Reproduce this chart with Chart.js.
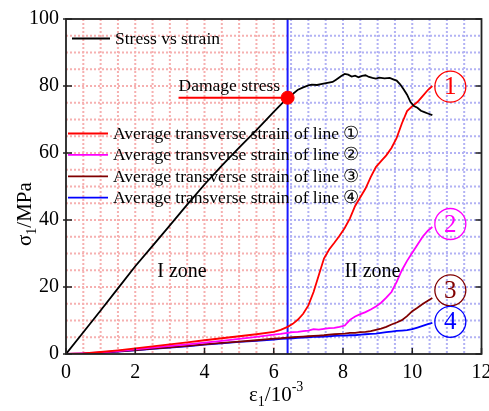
<!DOCTYPE html>
<html>
<head>
<meta charset="utf-8">
<script src="https://cdn.jsdelivr.net/npm/chart.js@4.4.1/dist/chart.umd.min.js"></script>
<style>
  html, body { margin: 0; padding: 0; background: #fff; }
</style>
</head>
<body>
<canvas id="chart" width="489" height="411"></canvas>
<script>
// Courbe contrainte-déformation (noir)
const stressStrain = [0, 0.5, 1, 1.5, 2, 2.5, 3, 3.5, 4, 4.5, 5, 5.5, 6, 6.4,
  6.55, 6.7, 6.85, 7.0, 7.1, 7.25, 7.4, 7.55, 7.7, 7.8, 7.95, 8.05, 8.15, 8.25, 8.35, 8.45,
  8.55, 8.65, 8.75, 8.85, 8.95, 9.05, 9.2, 9.35, 9.45, 9.55, 9.65, 9.75, 9.85, 9.95,
  10.05, 10.15, 10.25, 10.35, 10.45, 10.58];
const stress = [0, 6.5, 13, 19.6, 26.2, 32.3, 38.4, 44.6, 50.6, 56.2, 61.6, 66.8, 72.3, 76.5,
  77.6, 78.9, 79.6, 80.2, 80.4, 80.3, 80.6, 80.9, 81.2, 81.9, 83.0, 83.6, 83.4, 82.8, 83.1, 82.6,
  83.0, 83.2, 82.7, 82.4, 82.2, 82.5, 82.3, 82.4, 82.0, 81.6, 80.5, 79.0, 77.4, 75.2,
  74.0, 73.5, 72.6, 72.2, 71.8, 71.3];

// Déformations transversales moyennes des lignes 1 à 4 (même axe des x)
const lineStrain = [0, 0.5, 1, 1.5, 2, 2.5, 3, 3.5, 4, 4.5, 5, 5.5, 6, 6.2, 6.4, 6.55, 6.7, 6.85,
  7.0, 7.15, 7.3, 7.45, 7.6, 7.75, 7.9, 8.05, 8.2, 8.35, 8.5, 8.65, 8.8, 8.95, 9.1, 9.25,
  9.4, 9.55, 9.7, 9.85, 10.0, 10.15, 10.3, 10.45, 10.58];
const line1 = [0, 0.2, 0.6, 1.1, 1.7, 2.3, 2.9, 3.5, 4.1, 4.7, 5.3, 5.9, 6.6, 7.2, 8.1, 9.0, 10.3, 12.0,
  14.5, 18.5, 23.5, 28.5, 31.2, 33.2, 35.3, 37.6, 40.5, 44.2, 46.8, 49.4, 52.8, 55.8, 57.6, 59.3,
  61.5, 64.5, 68.8, 72.5, 74.0, 75.2, 77.0, 78.8, 80.0];
const line2 = [0, 0.2, 0.5, 0.9, 1.4, 1.9, 2.4, 2.9, 3.4, 3.9, 4.5, 5.1, 5.8, 6.0, 6.3, 6.5, 6.6, 6.8,
  7.0, 7.4, 7.3, 7.5, 7.7, 7.8, 8.1, 8.5, 10.2, 11.2, 11.9, 12.5, 13.3, 14.2, 15.3, 16.8,
  18.5, 21.5, 25.0, 27.8, 30.2, 32.6, 35.0, 36.8, 37.9];
const line3 = [0, 0.1, 0.4, 0.8, 1.2, 1.6, 2.0, 2.4, 2.9, 3.3, 3.7, 4.1, 4.6, 4.7, 4.9, 5.0, 5.1, 5.2,
  5.3, 5.4, 5.5, 5.6, 5.8, 5.9, 6.0, 6.1, 6.3, 6.3, 6.5, 6.6, 6.8, 7.2, 7.6, 8.1,
  8.8, 9.4, 10.1, 11.3, 12.8, 13.8, 14.9, 15.9, 16.7];
const line4 = [0, 0.1, 0.3, 0.7, 1.1, 1.5, 1.9, 2.3, 2.8, 3.2, 3.6, 3.9, 4.3, 4.5, 4.6, 4.7, 4.8, 4.9,
  5.0, 5.1, 5.1, 5.2, 5.3, 5.4, 5.5, 5.5, 5.6, 5.6, 5.8, 5.9, 6.0, 6.1, 6.3, 6.5,
  6.7, 6.9, 7.0, 7.1, 7.4, 7.9, 8.4, 8.9, 9.3];

// Point de contrainte d'endommagement
const damageStrain = 6.4;
const damageStress = 76.5;
const damageLineStart = 3.25;

// Ticks des axes
const xTicks = [0, 2, 4, 6, 8, 10, 12];
const yTicks = [0, 20, 40, 60, 80, 100];

// Légende et étiquettes
const stressLabel = 'Stress vs strain';
const lineLabels = ['Average transverse strain of line \u2460', 'Average transverse strain of line \u2461',
  'Average transverse strain of line \u2462', 'Average transverse strain of line \u2463'];
const lineColors = ['#ff0000', '#ff00ff', '#800000', '#0000ff'];
const circleDigits = ['1', '2', '3', '4'];
const circleX = 11.1;
const circleY = [79.8, 38.8, 19.0, 9.6];
const zoneLabels = [{ text: 'I zone', x: 3.35, y: 25 }, { text: 'II zone', x: 8.85, y: 25 }];

const SERIF = '"Liberation Serif", "Times New Roman", serif';

function toPoints(xs, ys) {
  return xs.map((x, i) => ({ x: x, y: ys[i] }));
}

// Fond quadrillé en pointillés : rose à gauche (zone I), bleu à droite (zone II)
const backgroundGrid = {
  id: 'backgroundGrid',
  beforeDatasetsDraw(chart) {
    const { ctx, chartArea: a, scales: { x, y } } = chart;
    const split = x.getPixelForValue(damageStrain);
    ctx.save();
    ctx.lineWidth = 2;
    ctx.setLineDash([2, 2]);
    const zones = [[a.left, split, '#f6b0b0'], [split, a.right, '#b2b2f4']];
    zones.forEach(([l, r, color]) => {
      ctx.save();
      ctx.beginPath();
      ctx.rect(l, a.top, r - l, a.bottom - a.top);
      ctx.clip();
      ctx.strokeStyle = color;
      for (let v = 0.5; v < 12; v += 0.5) {
        const px = x.getPixelForValue(v);
        ctx.beginPath();
        ctx.moveTo(px, a.top);
        ctx.lineTo(px, a.bottom);
        ctx.stroke();
      }
      for (let v = 5; v < 100; v += 5) {
        const py = y.getPixelForValue(v);
        ctx.beginPath();
        ctx.moveTo(a.left, py);
        ctx.lineTo(a.right, py);
        ctx.stroke();
      }
      ctx.restore();
    });
    ctx.restore();
  }
};

// Cadre, ticks, titres d'axes, légende et annotations
const overlay = {
  id: 'overlay',
  afterDraw(chart) {
    const { ctx, chartArea: a, scales: { x, y } } = chart;
    ctx.save();

    // Cadre
    ctx.strokeStyle = '#222';
    ctx.lineWidth = 1.8;
    ctx.strokeRect(a.left, a.top, a.right - a.left, a.bottom - a.top);

    // Ticks vers l'intérieur
    ctx.lineWidth = 1.5;
    ctx.beginPath();
    xTicks.forEach(v => {
      const px = x.getPixelForValue(v);
      ctx.moveTo(px, a.bottom);
      ctx.lineTo(px, a.bottom - 6);
    });
    yTicks.forEach(v => {
      const py = y.getPixelForValue(v);
      ctx.moveTo(a.left - 3, py);
      ctx.lineTo(a.left + 6, py);
      ctx.moveTo(a.right, py);
      ctx.lineTo(a.right - 6, py);
    });
    ctx.stroke();

    ctx.fillStyle = '#000';
    ctx.textBaseline = 'alphabetic';

    // Titre de l'axe x : ε1/10-3
    ctx.textAlign = 'left';
    let tx = 249, ty = 401;
    ctx.font = '21px ' + SERIF;
    ctx.fillText('\u03b5', tx, ty); tx += ctx.measureText('\u03b5').width;
    ctx.font = '14px ' + SERIF;
    ctx.fillText('1', tx, ty + 5); tx += ctx.measureText('1').width;
    ctx.font = '21px ' + SERIF;
    ctx.fillText('/10', tx, ty); tx += ctx.measureText('/10').width;
    ctx.font = '14px ' + SERIF;
    ctx.fillText('-3', tx, ty - 10);

    // Titre de l'axe y : σ1/MPa
    ctx.save();
    ctx.translate(31, 246);
    ctx.rotate(-Math.PI / 2);
    let sx = 0;
    ctx.font = '21px ' + SERIF;
    ctx.fillText('\u03c3', sx, 0); sx += ctx.measureText('\u03c3').width;
    ctx.font = '14px ' + SERIF;
    ctx.fillText('1', sx, 5); sx += ctx.measureText('1').width;
    ctx.font = '21px ' + SERIF;
    ctx.fillText('/MPa', sx, 0);
    ctx.restore();

    // Légende
    ctx.lineWidth = 1.8;
    ctx.font = '17.5px ' + SERIF;
    ctx.textBaseline = 'middle';
    ctx.strokeStyle = '#000';
    ctx.beginPath(); ctx.moveTo(72, 38.5); ctx.lineTo(110, 38.5); ctx.stroke();
    ctx.fillText(stressLabel, 115, 39);
    lineLabels.forEach((label, i) => {
      const ly = 133.5 + i * 21.4;
      ctx.strokeStyle = lineColors[i];
      ctx.beginPath(); ctx.moveTo(68, ly); ctx.lineTo(108, ly); ctx.stroke();
      ctx.fillStyle = '#000';
      ctx.fillText(label, 113, ly + 1);
    });

    // Texte "Damage stress"
    ctx.textBaseline = 'alphabetic';
    ctx.fillText('Damage stress', x.getPixelForValue(damageLineStart), y.getPixelForValue(damageStress) - 7);

    // Zones
    ctx.font = '20px ' + SERIF;
    ctx.textAlign = 'center';
    zoneLabels.forEach(z => ctx.fillText(z.text, x.getPixelForValue(z.x), y.getPixelForValue(z.y) + 7));

    // Numéros encerclés
    ctx.textBaseline = 'middle';
    ctx.font = '25px ' + SERIF;
    ctx.lineWidth = 1.3;
    circleY.forEach((v, i) => {
      const cx = x.getPixelForValue(circleX);
      const cy = y.getPixelForValue(v);
      ctx.strokeStyle = lineColors[i];
      ctx.fillStyle = lineColors[i];
      ctx.beginPath();
      ctx.arc(cx, cy, 15.5, 0, Math.PI * 2);
      ctx.stroke();
      ctx.fillText(circleDigits[i], cx, cy + 1);
    });

    ctx.restore();
  }
};

const lineDataset = (data, color, order) => ({
  data: data,
  borderColor: color,
  borderWidth: 1.8,
  pointRadius: 0,
  showLine: true,
  tension: 0,
  order: order
});

const datasets = [
  Object.assign(lineDataset(toPoints(stressStrain, stress), '#000', 1), { label: stressLabel }),
  lineDataset(toPoints(lineStrain, line1), lineColors[0], 2),
  lineDataset(toPoints(lineStrain, line2), lineColors[1], 3),
  lineDataset(toPoints(lineStrain, line3), lineColors[2], 4),
  lineDataset(toPoints(lineStrain, line4), lineColors[3], 5),
  lineDataset([{ x: damageLineStart, y: damageStress }, { x: damageStrain, y: damageStress }], '#ff0000', 6),
  Object.assign(lineDataset([{ x: damageStrain, y: 0 }, { x: damageStrain, y: 100 }], '#1a1aff', 7), { borderWidth: 2 }),
  {
    data: [{ x: damageStrain, y: damageStress }],
    pointRadius: 6.5,
    pointBackgroundColor: '#ff0000',
    pointBorderColor: '#ff0000',
    showLine: false,
    order: 0
  }
];

new Chart(document.getElementById('chart'), {
  type: 'scatter',
  data: { datasets: datasets },
  options: {
    responsive: false,
    animation: false,
    layout: { padding: { top: 17, right: 4, left: 0, bottom: 0 } },
    plugins: { legend: { display: false }, tooltip: { enabled: false } },
    scales: {
      x: {
        type: 'linear',
        min: 0,
        max: 12,
        grid: { display: false, drawTicks: false },
        border: { display: false },
        ticks: { stepSize: 2, padding: 7, color: '#000', font: { family: SERIF, size: 20 } },
        afterFit(scale) {
          scale.height = 57;
          scale.paddingLeft = 0;
          scale.paddingRight = 0;
        }
      },
      y: {
        type: 'linear',
        min: 0,
        max: 100,
        grid: { display: false, drawTicks: false },
        border: { display: false },
        ticks: { stepSize: 20, padding: 7, color: '#000', font: { family: SERIF, size: 20 } },
        afterFit(scale) {
          scale.width = 66;
        }
      }
    }
  },
  plugins: [backgroundGrid, overlay]
});
</script>
</body>
</html>
